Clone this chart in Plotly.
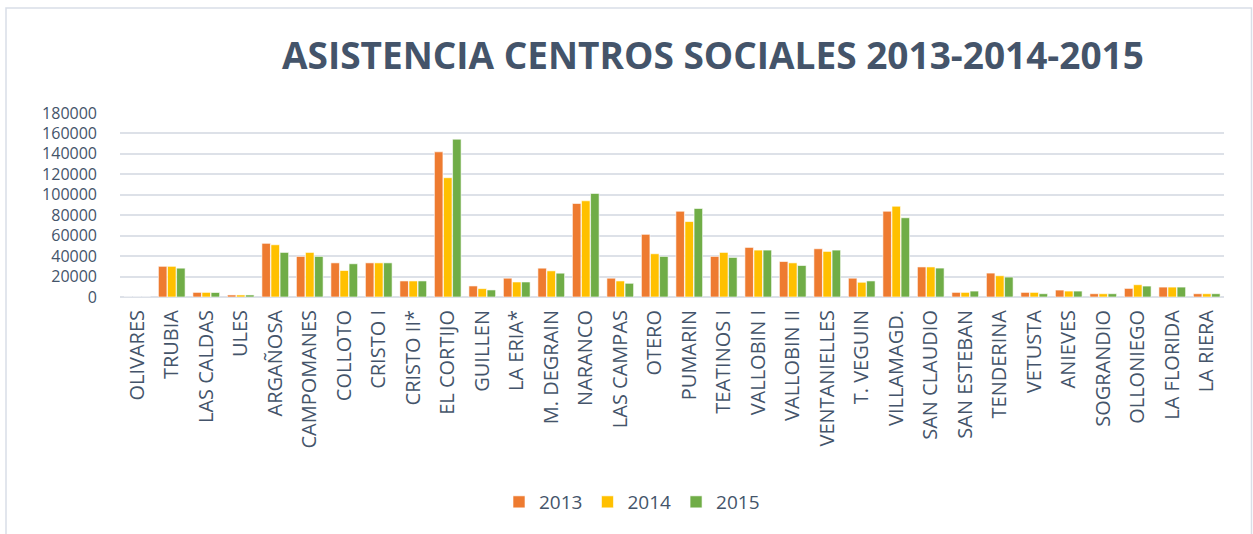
import plotly.graph_objects as go

centros = ["OLIVARES", "TRUBIA", "LAS CALDAS", "ULES", "ARGAÑOSA", "CAMPOMANES",
           "COLLOTO", "CRISTO I", "CRISTO II*", "EL CORTIJO", "GUILLEN", "LA ERIA*",
           "M. DEGRAIN", "NARANCO", "LAS CAMPAS", "OTERO", "PUMARIN", "TEATINOS I",
           "VALLOBIN I", "VALLOBIN II", "VENTANIELLES", "T. VEGUIN", "VILLAMAGD.",
           "SAN CLAUDIO", "SAN ESTEBAN", "TENDERINA", "VETUSTA", "ANIEVES",
           "SOGRANDIO", "OLLONIEGO", "LA FLORIDA", "LA RIERA"]

v2013 = [0, 30000, 4500, 2000, 52500, 39700, 33400, 33400, 15700, 142000, 10800, 18400,
         28200, 91500, 18400, 61300, 83900, 39700, 48500, 34700, 47200, 18400, 83900,
         29400, 4500, 23400, 4500, 6800, 3200, 8400, 9700, 3200]
v2014 = [0, 30000, 4500, 2000, 51100, 43600, 25900, 33400, 15700, 116700, 8200, 14700,
         25600, 94100, 15700, 42300, 73800, 43600, 45900, 33400, 44600, 14400, 88800,
         29400, 4500, 20800, 4500, 5800, 3200, 12000, 9700, 3200]
v2015 = [0, 28200, 4400, 2000, 43600, 39700, 32500, 33400, 15700, 154400, 6900, 14700,
         23300, 101300, 13400, 39700, 86600, 38700, 45900, 30800, 45900, 15700, 77500,
         28300, 5800, 19500, 3200, 5800, 3200, 10700, 9700, 3200]

years = ["2013", "2014", "2015"]
colors = ["#EE7B30", "#FFC000", "#70AD47"]
values = [v2013, v2014, v2015]
y_ticks = [0, 20000, 40000, 60000, 80000, 100000, 120000, 140000, 160000, 180000]

W, H = 1253, 534
L, R, T, B = 120, 1224, 113, 297


def px_x(x):
    return (x - L) / (R - L)


def px_y(y):
    return (B - y) / (B - T)


text_col = "#44546A"
grid_col = "#DDE1E8"

fig = go.Figure()
for yr, col, vals in zip(years, colors, values):
    fig.add_trace(go.Bar(
        name=yr, x=centros, y=vals,
        marker=dict(color=col, line=dict(color="rgba(255,255,255,0.75)", width=0.8)),
    ))

fig.update_layout(
    width=W, height=H,
    margin=dict(l=L, r=W - R, t=T, b=H - B, pad=0),
    paper_bgcolor="white", plot_bgcolor="white",
    barmode="group", bargap=0.21, bargroupgap=0.06,
    font=dict(family="Open Sans", color=text_col),
    showlegend=True,
    legend=dict(orientation="h", x=px_x(632), y=px_y(502), xanchor="center", yanchor="middle",
                font=dict(size=19, color=text_col), itemwidth=30, traceorder="normal",
                bgcolor="rgba(0,0,0,0)"),
    xaxis=dict(type="category", tickangle=-90, tickfont=dict(size=20, color=text_col),
               showgrid=False, showline=False, ticks="", automargin=False,
               ticklabelstandoff=8),
    yaxis=dict(range=[0, 180000], tickvals=y_ticks, ticktext=[str(v) for v in y_ticks],
               tickfont=dict(size=16, color=text_col), showgrid=True, gridcolor=grid_col,
               gridwidth=2, zeroline=True, zerolinecolor=grid_col, zerolinewidth=2,
               showline=False, ticks="", automargin=False, ticklabelstandoff=22),
    annotations=[dict(text="<b>ASISTENCIA CENTROS SOCIALES 2013-2014-2015</b>",
                      xref="paper", yref="paper", x=px_x(713), y=px_y(55),
                      xanchor="center", yanchor="middle", showarrow=False,
                      font=dict(family="Open Sans", size=37, color=text_col))],
    shapes=[dict(type="rect", xref="paper", yref="paper",
                 x0=px_x(6), x1=px_x(1251.5), y0=px_y(545), y1=px_y(8),
                 line=dict(color="#D9DEE7", width=1.5), layer="below")],
)

fig.write_html("out.html", config={"displayModeBar": False},
               post_script="document.body.style.margin='0';document.body.style.overflow='hidden';")
